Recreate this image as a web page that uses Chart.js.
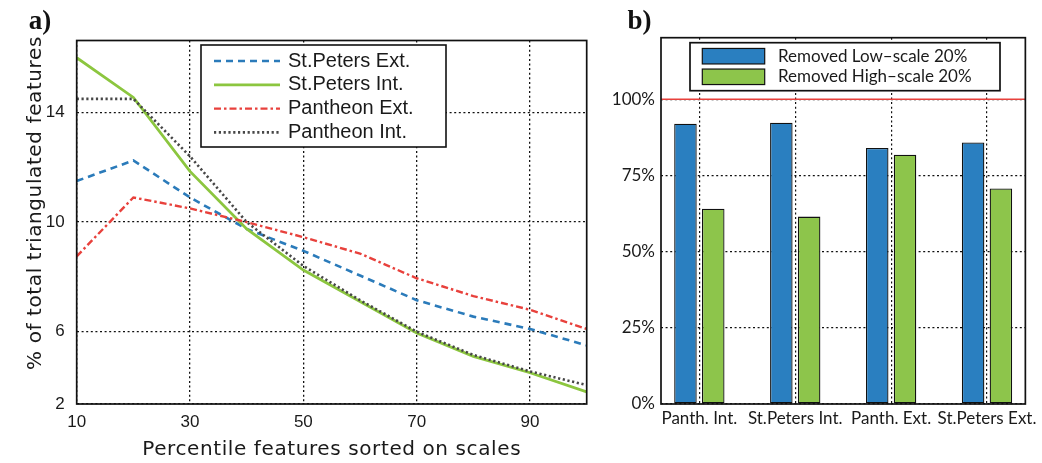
<!DOCTYPE html>
<html>
<head>
<meta charset="utf-8">
<script src="https://cdn.jsdelivr.net/npm/chart.js@4.4.1/dist/chart.umd.min.js"></script>
<style>
  html, body { margin: 0; padding: 0; background: #fff; }
  body { width: 1042px; height: 463px; position: relative; overflow: hidden; }
  .panel { position: absolute; top: 0; height: 463px; }
  #panel-a { left: 0; width: 605px; }
  #panel-b { left: 605px; width: 437px; }
</style>
</head>
<body>
<div class="panel" id="panel-a"><canvas id="chart-a"></canvas></div>
<div class="panel" id="panel-b"><canvas id="chart-b"></canvas></div>
<script>
// a) share of triangulated features per percentile of the scale-sorted features
const percentiles = [10, 20, 30, 40, 50, 60, 70, 80, 90, 100];
const stPetersExt = [11.5, 12.25, 10.9, 9.75, 8.95, 8.05, 7.15, 6.55, 6.1, 5.5];
const stPetersInt = [16.0, 14.55, 11.85, 9.75, 8.25, 7.1, 5.95, 5.1, 4.5, 3.8];
const pantheonExt = [8.75, 10.9, 10.5, 10.0, 9.45, 8.85, 7.95, 7.3, 6.8, 6.1];
const pantheonInt = [14.5, 14.5, 12.4, 10.0, 8.4, 7.15, 6.0, 5.15, 4.55, 4.05];
const lineNames = ['St.Peters Ext.', 'St.Peters Int.', 'Pantheon Ext.', 'Pantheon Int.'];
const xTicksA = [10, 30, 50, 70, 90];
const yMinA = 3.36;
const yMaxA = 16.63;
const yTicksA = [yMinA, 6, 10, 14];
const yTickLabelsA = ['2', '6', '10', '14'];

// b) triangulated share left after dropping part of the features
const sites = ['Panth. Int.', 'St.Peters Int.', 'Panth. Ext.', 'St.Peters Ext.'];
const removedLowScale = [92, 92.3, 84, 85.8];
const removedHighScale = [64.1, 61.5, 81.8, 70.7];
const barNames = ['Removed Low\u2013scale 20%', 'Removed High\u2013scale 20%'];
const yTicksB = [0, 25, 50, 75, 100];
const fullLevel = 100;

const sansA = "'Liberation Sans', Arial, sans-serif";
const sansB = "Lato, 'Open Sans', sans-serif";
const titleFont = "20px 'DejaVu Sans', sans-serif";
const panelFont = "bold 27px 'Liberation Serif', 'Times New Roman', serif";
const ink = '#1a1a1a';
const gridColor = '#111';
const gridDash = [2, 2.6];

// box around the plot area, like an axes frame
const frame = {
  id: 'frame',
  afterDatasetsDraw(chart, args, o) {
    const { ctx, chartArea: a } = chart;
    ctx.save();
    ctx.strokeStyle = '#111';
    ctx.lineWidth = o.width || 1.5;
    ctx.setLineDash([]);
    ctx.strokeRect(a.left, a.top, a.right - a.left, a.bottom - a.top);
    ctx.restore();
  }
};

// legend drawn as a framed box at a fixed spot inside the axes
const boxLegend = {
  id: 'boxLegend',
  afterDraw(chart, args, o) {
    const ctx = chart.ctx;
    ctx.save();
    ctx.fillStyle = '#fff';
    ctx.fillRect(o.left, o.top, o.width, o.height);
    ctx.strokeStyle = '#111';
    ctx.lineWidth = o.borderWidth;
    ctx.strokeRect(o.left, o.top, o.width, o.height);
    ctx.font = o.font;
    ctx.textBaseline = 'middle';
    chart.data.datasets.forEach((ds, i) => {
      const cy = o.firstRow + i * o.rowGap;
      if (o.swatch === 'box') {
        ctx.fillStyle = ds.backgroundColor;
        ctx.fillRect(o.symX, cy - o.symH / 2, o.symW, o.symH);
        ctx.strokeStyle = '#111';
        ctx.lineWidth = 1.2;
        ctx.setLineDash([]);
        ctx.strokeRect(o.symX, cy - o.symH / 2, o.symW, o.symH);
      } else {
        ctx.strokeStyle = ds.borderColor;
        ctx.lineWidth = ds.borderWidth;
        ctx.setLineDash(ds.borderDash || []);
        ctx.beginPath();
        ctx.moveTo(o.symX, cy);
        ctx.lineTo(o.symX + o.symW, cy);
        ctx.stroke();
      }
      ctx.setLineDash([]);
      ctx.fillStyle = ink;
      ctx.fillText(ds.label, o.textX, cy);
    });
    ctx.restore();
  }
};

// free text: panel letters and axis titles
const panelText = {
  id: 'panelText',
  afterDraw(chart, args, o) {
    const ctx = chart.ctx;
    (o.items || []).forEach(t => {
      ctx.save();
      ctx.translate(t.x, t.y);
      if (t.rotate) ctx.rotate(t.rotate);
      ctx.font = t.font;
      ctx.fillStyle = t.color || ink;
      ctx.textAlign = 'center';
      ctx.textBaseline = t.baseline || 'middle';
      if (t.spacing) ctx.letterSpacing = t.spacing + 'px';
      ctx.fillText(t.text, 0, 0);
      ctx.restore();
    });
  }
};

// red reference line at the full level
const levelLine = {
  id: 'levelLine',
  afterDatasetsDraw(chart, args, o) {
    const { ctx, chartArea: a, scales } = chart;
    const y = scales.y.getPixelForValue(o.value);
    ctx.save();
    ctx.strokeStyle = o.color;
    ctx.lineWidth = o.width;
    ctx.beginPath();
    ctx.moveTo(a.left, y);
    ctx.lineTo(a.right, y);
    ctx.stroke();
    ctx.restore();
  }
};

const lineSeries = [stPetersExt, stPetersInt, pantheonExt, pantheonInt];
const lineStyles = [
  { color: '#2b7bba', width: 2.6, dash: [7, 5] },
  { color: '#8cc63f', width: 2.8, dash: [] },
  { color: '#e8413c', width: 2.4, dash: [7, 3, 2.5, 3] },
  { color: '#474747', width: 2.6, dash: [2.2, 2.6] }
];

new Chart(document.getElementById('chart-a'), {
  type: 'line',
  data: {
    datasets: lineSeries.map((vals, i) => ({
      label: lineNames[i],
      data: percentiles.map((p, j) => ({ x: p, y: vals[j] })),
      borderColor: lineStyles[i].color,
      borderWidth: lineStyles[i].width,
      borderDash: lineStyles[i].dash,
      pointRadius: 0,
      tension: 0,
      order: lineSeries.length - i
    }))
  },
  options: {
    responsive: true,
    maintainAspectRatio: false,
    animation: false,
    layout: { padding: { left: 0, top: 40.5, right: 18.3, bottom: 0 } },
    scales: {
      x: {
        type: 'linear',
        min: 10,
        max: 100,
        afterBuildTicks: s => { s.ticks = xTicksA.map(v => ({ value: v })); },
        afterFit: s => { s.height = 59; },
        ticks: { font: { family: sansA, size: 17 }, color: ink, padding: 8, maxRotation: 0 },
        grid: { color: gridColor, lineWidth: 1.3, drawTicks: false },
        border: { display: false, dash: gridDash }
      },
      y: {
        type: 'linear',
        min: yMinA,
        max: yMaxA,
        afterBuildTicks: s => { s.ticks = yTicksA.map(v => ({ value: v })); },
        afterFit: s => { s.width = 76.7; },
        ticks: { callback: (v, i) => yTickLabelsA[i], font: { family: sansA, size: 17 }, color: ink, padding: 12 },
        grid: { color: gridColor, lineWidth: 1.3, drawTicks: false },
        border: { display: false, dash: gridDash }
      }
    },
    plugins: {
      legend: { display: false },
      tooltip: { enabled: false },
      frame: { width: 1.7 },
      boxLegend: {
        left: 201, top: 45, width: 245, height: 102, borderWidth: 1.6,
        font: "20px " + sansA, swatch: 'line',
        symX: 214, symW: 66, textX: 288, firstRow: 61, rowGap: 23.8
      },
      panelText: {
        items: [
          { text: 'a)', x: 40, y: 29, font: panelFont, baseline: 'alphabetic', color: '#111' },
          { text: '% of total triangulated features', x: 36, y: 203, rotate: -Math.PI / 2, font: titleFont, spacing: 0.6 },
          { text: 'Percentile features sorted on scales', x: 331.7, y: 450, font: titleFont, spacing: 0.6 }
        ]
      }
    }
  },
  plugins: [frame, boxLegend, panelText]
});

const barColors = ['#2a7fc0', '#8dc54b'];
const barSeries = [removedLowScale, removedHighScale];

new Chart(document.getElementById('chart-b'), {
  type: 'bar',
  data: {
    datasets: barSeries.map((vals, i) => ({
      label: barNames[i],
      data: sites.map((s, j) => ({ x: j + 1, y: vals[j] })),
      backgroundColor: barColors[i],
      borderColor: '#111',
      borderWidth: 1.3,
      borderSkipped: false,
      categoryPercentage: 0.58,
      barPercentage: 0.81
    }))
  },
  options: {
    responsive: true,
    maintainAspectRatio: false,
    animation: false,
    layout: { padding: { left: 0, top: 37.7, right: 14.7, bottom: 0 } },
    scales: {
      x: {
        type: 'linear',
        min: 0.6,
        max: 4.4,
        offset: false,
        afterBuildTicks: s => { s.ticks = sites.map((c, i) => ({ value: i + 1 })); },
        afterFit: s => { s.height = 59; },
        ticks: {
          callback: (v, i) => sites[i],
          font: { family: sansB, size: 17 }, color: ink, padding: 4,
          autoSkip: false, maxRotation: 0
        },
        grid: { color: gridColor, lineWidth: 1.2, drawTicks: false, offset: false },
        border: { display: false, dash: gridDash }
      },
      y: {
        type: 'linear',
        min: 0,
        max: 120.2,
        afterBuildTicks: s => { s.ticks = yTicksB.map(v => ({ value: v })); },
        afterFit: s => { s.width = 56; },
        ticks: { callback: v => v + '%', font: { family: sansB, size: 17 }, color: ink, padding: 6 },
        grid: { color: gridColor, lineWidth: 1.2, drawTicks: false },
        border: { display: false, dash: gridDash }
      }
    },
    plugins: {
      legend: { display: false },
      tooltip: { enabled: false },
      levelLine: { value: fullLevel, color: '#e8413c', width: 1.6 },
      frame: { width: 1.7 },
      boxLegend: {
        left: 85, top: 42.7, width: 310, height: 48, borderWidth: 1.7,
        font: "17px " + sansB, swatch: 'box',
        symX: 97.3, symW: 62.4, symH: 15.5, textX: 173, firstRow: 56.2, rowGap: 20.6
      },
      panelText: {
        items: [
          { text: 'b)', x: 34.5, y: 29, font: panelFont, baseline: 'alphabetic', color: '#111' }
        ]
      }
    }
  },
  plugins: [levelLine, frame, boxLegend, panelText]
});
</script>
</body>
</html>
